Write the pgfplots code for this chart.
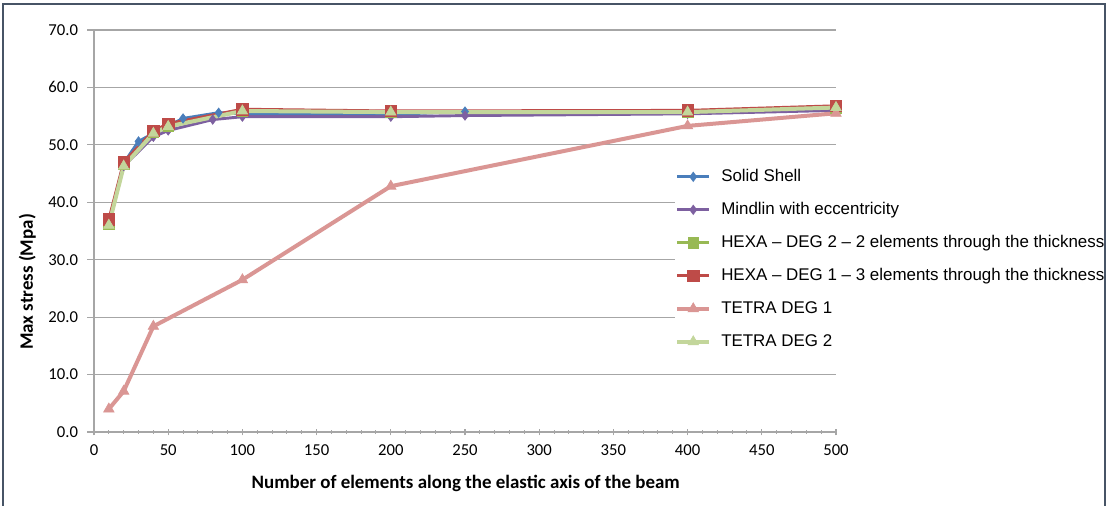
\documentclass[border=0pt]{standalone}
\usepackage{pgfplots}
\pgfplotsset{compat=1.18}
\usepackage{fontspec}
\setmainfont{Carlito}
\newfontfamily\arialfont{Liberation Sans}
\definecolor{cShell}{HTML}{4A7EBB}
\definecolor{cMind}{HTML}{7D60A0}
\definecolor{cHexaB}{HTML}{98B954}
\definecolor{cHexaA}{HTML}{BE4B48}
\definecolor{cTetA}{HTML}{DA9694}
\definecolor{cTetB}{HTML}{C3D69B}
\definecolor{cFrame}{HTML}{475466}
\definecolor{cGrid}{HTML}{A6A6A6}
\begin{document}
\begin{tikzpicture}
\path[use as bounding box] (0,0) rectangle (832.5pt,379.5pt);
\begin{axis}[
  at={(70.5pt,55.5pt)}, anchor=south west,
  scale only axis, width=556.5pt, height=301.5pt,
  xmin=0, xmax=500, ymin=0, ymax=70,
  axis x line*=bottom, axis y line*=left,
  axis line style={cGrid, line width=0.8pt},
  xtick={0,50,...,500}, minor x tick num=4,
  ytick={0,10,...,70},
  ymajorgrids, major grid style={cGrid, line width=0.8pt},
  major tick style={cGrid, line width=0.8pt},
  minor tick style={cGrid, line width=0.8pt},
  xtick align=center,
  ytick align=outside,
  major tick length=5pt, minor tick length=3pt,
  tick label style={font=\fontsize{12.5}{14}\selectfont, text=black},
  xticklabel style={yshift=-3.5pt},
  yticklabel style={xshift=-3.5pt},
  /pgf/number format/assume math mode=true,
  yticklabel={\pgfmathprintnumber[fixed,fixed zerofill,precision=1]{\tick}},
  xticklabel={\pgfmathprintnumber[fixed]{\tick}},
  xlabel={Number of elements along the elastic axis of the beam},
  ylabel={Max stress (Mpa)},
  label style={font=\bfseries\fontsize{14.2}{16}\selectfont},
  xlabel style={at={(axis description cs:0.501,0)}, anchor=north, yshift=-29pt},
  ylabel style={at={(axis description cs:0,0.373)}, anchor=south, yshift=40pt},
  legend cell align=left,
  legend style={at={(axis description cs:0.783,0.657)}, anchor=north west,
    draw=none, fill=white, inner sep=0pt,
    font=\arialfont\fontsize{12.7}{15}\selectfont,
    row sep=11.75pt,
    nodes={inner sep=0pt, text height=10pt, text depth=3pt}},
  legend image code/.code={\draw[mark repeat=2,mark phase=2,#1] plot coordinates {(0pt,0pt) (12pt,0pt) (24pt,0pt)};},
  /tikz/every odd column/.append style={column sep=7.5pt},
]
\addplot[color=cShell, line width=2.2pt, mark=diamond*, mark size=3.5pt, mark options={solid, line width=0.5pt}] coordinates {
(10,36.5) (20,46.8) (30,50.6) (40,52.0) (50,53.3) (60,54.6) (84,55.6) (100,55.4) (200,55.3) (250,55.8) (400,55.8) (500,56.3)};
\addlegendentry{Solid Shell}
\addplot[color=cMind, line width=2.2pt, mark=diamond*, mark size=3.5pt, mark options={solid, line width=0.5pt}] coordinates {
(10,36.3) (20,46.3) (40,51.4) (50,52.5) (80,54.4) (100,54.9) (200,54.9) (250,55.1) (400,55.4) (500,56.0)};
\addlegendentry{Mindlin with eccentricity}
\addplot[color=cHexaB, line width=2.2pt, mark=square*, mark size=4pt, mark options={solid, line width=0.5pt}] coordinates {
(10,36.2) (20,46.6) (40,52.2) (50,53.2) (100,55.9) (200,55.7) (400,55.8) (500,56.5)};
\addlegendentry{HEXA – DEG 2 – 2 elements through the thickness}
\addplot[color=cHexaA, line width=2.2pt, mark=square*, mark size=4.3pt, mark options={solid, line width=0.5pt}] coordinates {
(10,37.0) (20,47.0) (40,52.4) (50,53.7) (100,56.2) (200,55.9) (400,56.0) (500,56.8)};
\addlegendentry{HEXA – DEG 1 – 3 elements through the thickness}
\addplot[color=cTetA, line width=3pt, mark=triangle*, mark size=4.5pt, mark options={solid, line width=0.5pt}] coordinates {
(10,4.0) (20,7.1) (40,18.4) (100,26.5) (200,42.8) (400,53.3) (500,55.5)};
\addlegendentry{TETRA DEG 1}
\addplot[color=cTetB, line width=3pt, mark=triangle*, mark size=4.5pt, mark options={solid, line width=0.5pt}] coordinates {
(10,36.0) (20,46.3) (40,52.0) (50,53.2) (100,55.9) (200,55.7) (400,55.7) (500,56.5)};
\addlegendentry{TETRA DEG 2}
\end{axis}
\draw[cFrame, line width=1.5pt] (2.25pt,0pt) -- (2.25pt,376.5pt) -- (828.75pt,376.5pt) -- (828.75pt,0pt);
\end{tikzpicture}
\end{document}
